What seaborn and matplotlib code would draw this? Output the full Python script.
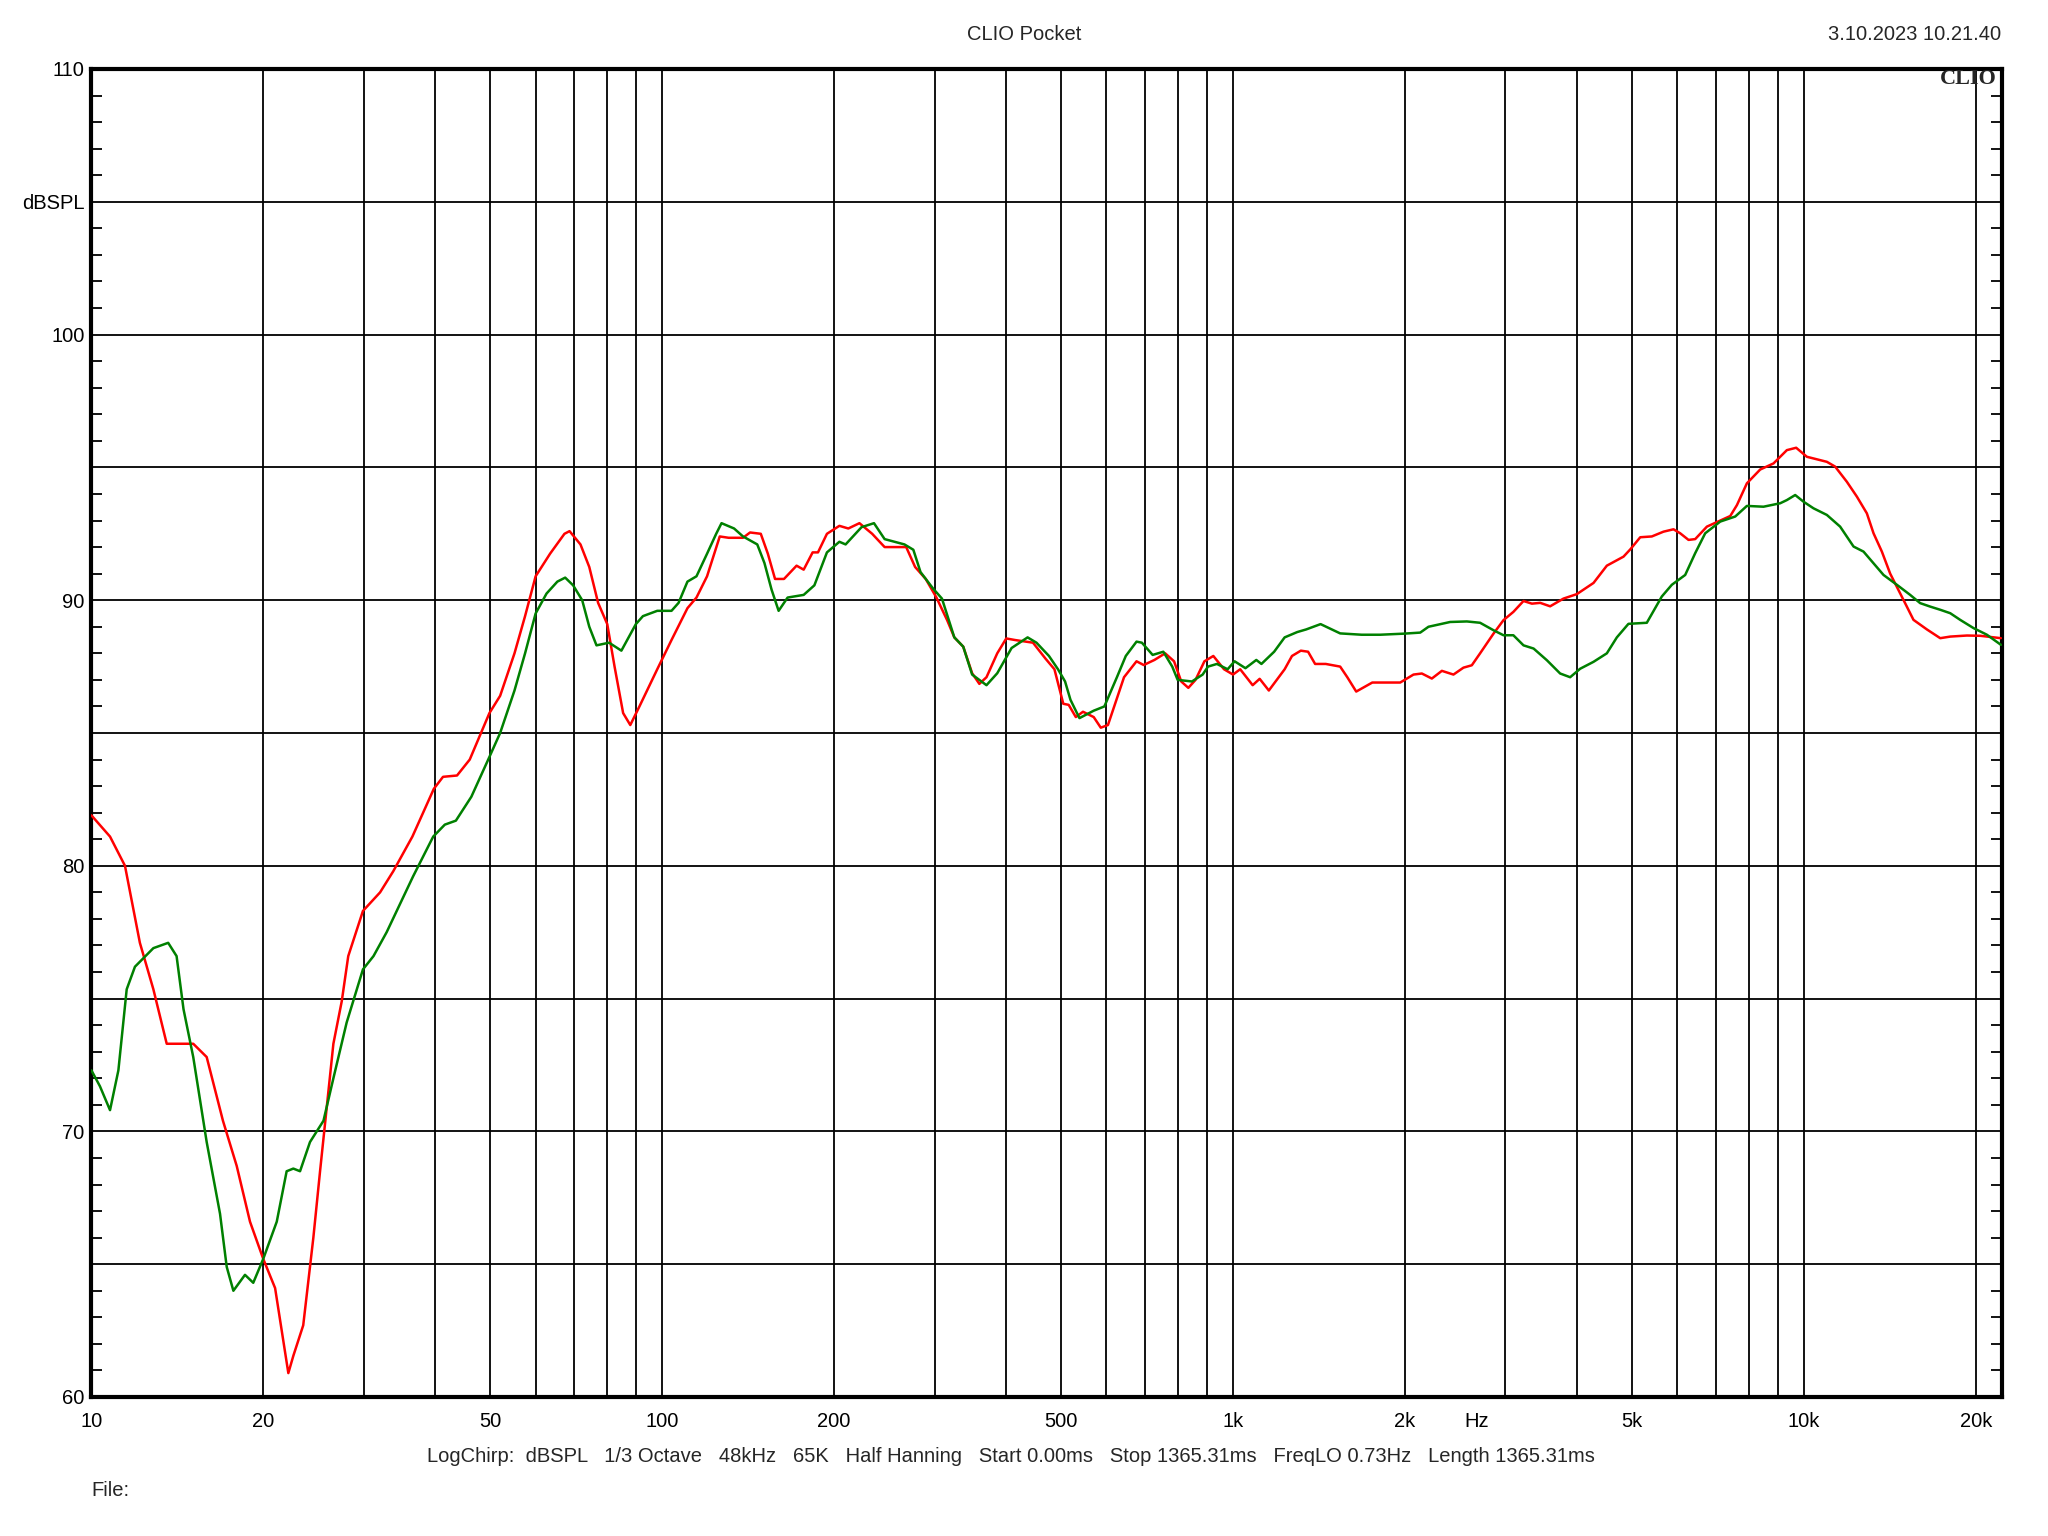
import numpy as np
import pandas as pd
import matplotlib
matplotlib.use("Agg")
import matplotlib.pyplot as plt
import seaborn as sns
from matplotlib.ticker import FixedLocator, FixedFormatter, MultipleLocator

# ---------------- data ----------------
red_freq = [10.0, 10.78, 11.45, 12.16, 12.84, 13.55, 15.08, 15.92, 17.0, 17.97, 18.96, 20.0,
            20.98, 22.13, 22.58, 23.5, 24.48, 25.15, 25.84, 26.54, 27.45, 28.18, 29.9, 32.04,
            33.8, 36.5, 39.8, 41.3, 43.7, 46.0, 49.8, 52.0, 55.1, 57.5, 60.0, 63.6, 67.4, 68.8,
            71.9, 74.5, 77.2, 80.1, 82.5, 85.4, 87.9, 91.2, 98.0, 103.8, 110.7, 114.8, 119.8,
            126.1, 130.7, 138.5, 142.5, 148.8, 153.1, 157.6, 163.4, 171.9, 176.9, 183.4, 187.4,
            194.3, 204.3, 211.8, 221.5, 233.2, 245.2, 267.5, 277.3, 289.4, 302.2, 315.5, 324.8,
            336.7, 349.0, 359.3, 369.8, 386.2, 400.5, 415.1, 446.1, 469.2, 486.4, 504.1, 515.2,
            530.2, 545.8, 569.9, 586.4, 603.6, 621.3, 644.0, 677.3, 697.2, 728.0, 760.2, 788.0,
            811.2, 834.7, 859.3, 890.7, 923.3, 964.0, 999.6, 1029, 1082, 1113, 1155, 1231, 1268,
            1314, 1353, 1392, 1453, 1540, 1585, 1643, 1753, 1857, 1962, 2070, 2141, 2229, 2321,
            2432, 2532, 2619, 2708, 2858, 2976, 3097, 3226, 3337, 3451, 3592, 3790, 4001, 4279,
            4515, 4829, 4966, 5166, 5413, 5674, 5908, 6069, 6277, 6448, 6760, 7133, 7428, 7630,
            7943, 8381, 8844, 9333, 9690, 10117, 10967, 11339, 11887, 12378, 12887, 13238, 13691,
            14158, 14740, 15141, 15553, 16417, 17325, 18040, 19295, 20355, 22130]
red_db = [81.9, 81.1, 80.0, 77.1, 75.35, 73.3, 73.3, 72.8, 70.4, 68.7, 66.6, 65.2,
          64.1, 60.9, 61.55, 62.7, 66.0, 68.5, 70.9, 73.3, 74.9, 76.6, 78.3, 79.0,
          79.8, 81.1, 82.9, 83.35, 83.4, 84.0, 85.75, 86.4, 88.0, 89.4, 90.9, 91.75, 92.5, 92.6,
          92.1, 91.25, 89.9, 89.1, 87.5, 85.75, 85.3, 86.0, 87.4, 88.5, 89.7, 90.1, 90.9,
          92.4, 92.35, 92.35, 92.55, 92.5, 91.75, 90.8, 90.8, 91.3, 91.15, 91.8, 91.8,
          92.5, 92.8, 92.7, 92.9, 92.5, 92.0, 92.0, 91.25, 90.8, 90.1, 89.25, 88.6,
          88.25, 87.25, 86.85, 87.1, 88.0, 88.56, 88.5, 88.4, 87.8, 87.4, 86.1, 86.06,
          85.6, 85.8, 85.6, 85.2, 85.3, 86.1, 87.1, 87.7, 87.56, 87.75, 88.0, 87.7,
          86.94, 86.7, 87.0, 87.7, 87.9, 87.4, 87.2, 87.4, 86.8, 87.04, 86.6, 87.4, 87.9,
          88.1, 88.06, 87.6, 87.6, 87.5, 87.1, 86.56, 86.9, 86.9, 86.9, 87.2, 87.24, 87.05, 87.34,
          87.2, 87.46, 87.55, 88.0, 88.74, 89.25, 89.56, 89.97, 89.87, 89.9, 89.77, 90.06, 90.23, 90.65,
          91.3, 91.64, 91.92, 92.37, 92.4, 92.58, 92.67, 92.52, 92.27, 92.3, 92.77, 93.0, 93.17, 93.58,
          94.4, 94.92, 95.15, 95.65, 95.74, 95.4, 95.21, 95.03, 94.46, 93.9, 93.27, 92.52, 91.83,
          91.0, 90.26, 89.76, 89.26, 88.9, 88.57, 88.63, 88.67, 88.66, 88.57]

green_freq = [10.0, 10.35, 10.78, 11.15, 11.53, 11.92, 12.84, 13.63, 14.1, 14.5, 15.08, 15.92,
              16.8, 17.26, 17.73, 18.58, 19.21, 20.0, 21.12, 21.98, 22.58, 23.2, 24.15, 25.5,
              26.54, 28.0, 29.9, 31.2, 32.9, 36.6, 39.7, 41.6, 43.5, 46.3, 49.8, 52.0, 55.1,
              57.5, 60.0, 62.7, 65.5, 67.6, 69.8, 72.4, 74.5, 76.7, 80.7, 84.8, 89.9, 92.5,
              98.0, 103.8, 106.8, 110.7, 114.8, 119.8, 124.3, 127.0, 133.6, 138.5, 146.7, 151.0,
              155.4, 159.9, 165.8, 176.9, 184.7, 194.3, 204.3, 209.5, 223.4, 234.9, 245.2, 265.6,
              275.3, 283.4, 298.1, 309.0, 324.8, 336.7, 349.0, 369.8, 386.2, 409.2, 436.5, 452.4,
              475.8, 493.4, 507.7, 518.9, 538.0, 569.9, 594.9, 625.8, 648.6, 677.3, 692.1, 722.8,
              754.7, 782.3, 799.6, 847.0, 884.4, 903.6, 936.7, 978.1, 1006, 1051, 1098, 1121,
              1180, 1231, 1295, 1343, 1423, 1540, 1679, 1810, 1989, 2127, 2199, 2400, 2567, 2708,
              2858, 2976, 3097, 3226, 3360, 3545, 3740, 3894, 4055, 4279, 4515, 4701, 4926, 5305,
              5636, 5868, 6193, 6448, 6714, 7133, 7578, 7943, 8494, 9085, 9333, 9652, 9980, 10391,
              10967, 11570, 12213, 12714, 13238, 13783, 14546, 15346, 15977, 16634, 17325, 18040,
              18777, 19815, 20912, 22130]
green_db = [72.3, 71.7, 70.8, 72.3, 75.35, 76.2, 76.9, 77.1, 76.6, 74.6, 72.8, 69.6,
            66.9, 64.9, 64.0, 64.6, 64.3, 65.2, 66.6, 68.5, 68.6, 68.5, 69.6, 70.4,
            72.0, 74.1, 76.1, 76.6, 77.5, 79.6, 81.1, 81.55, 81.7, 82.6, 84.1, 85.0, 86.6,
            88.0, 89.5, 90.25, 90.7, 90.85, 90.56, 90.0, 89.0, 88.3, 88.4, 88.1, 89.1, 89.4,
            89.6, 89.6, 89.9, 90.7, 90.9, 91.75, 92.5, 92.9, 92.7, 92.4, 92.1, 91.4,
            90.4, 89.6, 90.1, 90.2, 90.56, 91.8, 92.2, 92.1, 92.75, 92.9, 92.3, 92.1,
            91.9, 91.06, 90.44, 90.06, 88.6, 88.25, 87.2, 86.8, 87.25, 88.2, 88.6, 88.4,
            87.9, 87.4, 86.94, 86.25, 85.56, 85.84, 86.0, 87.1, 87.9, 88.44, 88.4, 87.94,
            88.06, 87.5, 87.0, 86.94, 87.2, 87.5, 87.6, 87.4, 87.7, 87.44, 87.75, 87.6,
            88.06, 88.6, 88.8, 88.9, 89.1, 88.75, 88.7, 88.7, 88.74, 88.78, 89.0, 89.18, 89.2, 89.15,
            88.87, 88.68, 88.68, 88.3, 88.18, 87.74, 87.24, 87.1, 87.42, 87.68, 88.0, 88.6, 89.11, 89.15,
            90.14, 90.58, 90.95, 91.77, 92.52, 92.96, 93.15, 93.55, 93.52, 93.65, 93.77, 93.96, 93.71, 93.46,
            93.21, 92.77, 92.02, 91.83, 91.39, 90.95, 90.58, 90.2, 89.89, 89.76, 89.64, 89.51,
            89.26, 88.95, 88.7, 88.32]

grid_freqs = [10, 20, 30, 40, 50, 60, 70, 80, 90, 100, 200, 300, 400, 500, 600, 700, 800, 900,
              1000, 2000, 3000, 4000, 5000, 6000, 7000, 8000, 9000, 10000, 20000]
x_labels = {10: "10", 20: "20", 50: "50", 100: "100", 200: "200", 500: "500",
            1000: "1k", 2000: "2k", 5000: "5k", 10000: "10k", 20000: "20k"}
y_grid = [60, 65, 70, 75, 80, 85, 90, 95, 100, 105, 110]
y_labels = {60: "60", 70: "70", 80: "80", 90: "90", 100: "100", 105: "dBSPL", 110: "110"}
hz_pos = 2676

title_text = "CLIO Pocket"
date_text = "3.10.2023 10.21.40"
info_text = ("LogChirp:  dBSPL   1/3 Octave   48kHz   65K   Half Hanning   Start 0.00ms   "
             "Stop 1365.31ms   FreqLO 0.73Hz   Length 1365.31ms")
file_text = "File:"

# ---------------- plotting ----------------
sns.set_style("white")
plt.rcParams['font.family'] = ['Liberation Sans', 'DejaVu Sans']

FS = 14.5
W, H = 2048, 1536
fig = plt.figure(figsize=(W / 100, H / 100), dpi=100)
L, R, T, B = 91.4, 2001.7, 69, 1397
ax = fig.add_axes([L / W, 1 - B / H, (R - L) / W, (B - T) / H])

df = pd.concat([
    pd.DataFrame({"freq": red_freq, "spl": red_db, "curve": "red"}),
    pd.DataFrame({"freq": green_freq, "spl": green_db, "curve": "green"}),
], ignore_index=True)

sns.lineplot(data=df, x="freq", y="spl", hue="curve", hue_order=["red", "green"],
             palette={"green": "#008000", "red": "#ff0000"}, estimator=None, sort=False,
             legend=False, linewidth=1.8, ax=ax, zorder=3)

ax.set_xscale("log")
ax.set_xlim(10, 22200)
ax.set_ylim(60, 110)
ax.set_xlabel("")
ax.set_ylabel("")

ax.xaxis.set_major_locator(FixedLocator(grid_freqs))
ax.xaxis.set_major_formatter(FixedFormatter([x_labels.get(f, "") for f in grid_freqs]))
ax.xaxis.set_minor_locator(FixedLocator([hz_pos]))
ax.xaxis.set_minor_formatter(FixedFormatter(["Hz"]))

ax.yaxis.set_major_locator(FixedLocator(y_grid))
ax.yaxis.set_major_formatter(FixedFormatter([y_labels.get(v, "") for v in y_grid]))
ax.yaxis.set_minor_locator(MultipleLocator(1))

ax.grid(True, which="major", axis="both", color="black", linewidth=1.3)
ax.tick_params(axis="x", which="both", length=0, pad=11, labelsize=FS, colors="black")
ax.tick_params(axis="y", which="major", length=0, pad=5, labelsize=FS, colors="black")
ax.tick_params(axis="y", which="minor", direction="in", length=8, width=1.3,
               left=True, right=True, color="black")

for sp in ax.spines.values():
    sp.set_visible(True)
    sp.set_color("black")
    sp.set_linewidth(3)

def px(x, y):
    return x / W, 1 - y / H

fig.text(*px(1024, 35), title_text, ha="center", va="center", fontsize=FS)
fig.text(*px(2001, 35), date_text, ha="right", va="center", fontsize=FS)
fig.text(*px(1997, 79), "CLIO", ha="right", va="center", fontsize=16, fontweight="bold",
         family=["Liberation Serif", "DejaVu Serif"], zorder=5)
fig.text(*px(1011, 1457), info_text, ha="center", va="center", fontsize=FS)
fig.text(*px(91, 1491), file_text, ha="left", va="center", fontsize=FS)

fig.savefig("out.png", dpi=100, facecolor="white")
